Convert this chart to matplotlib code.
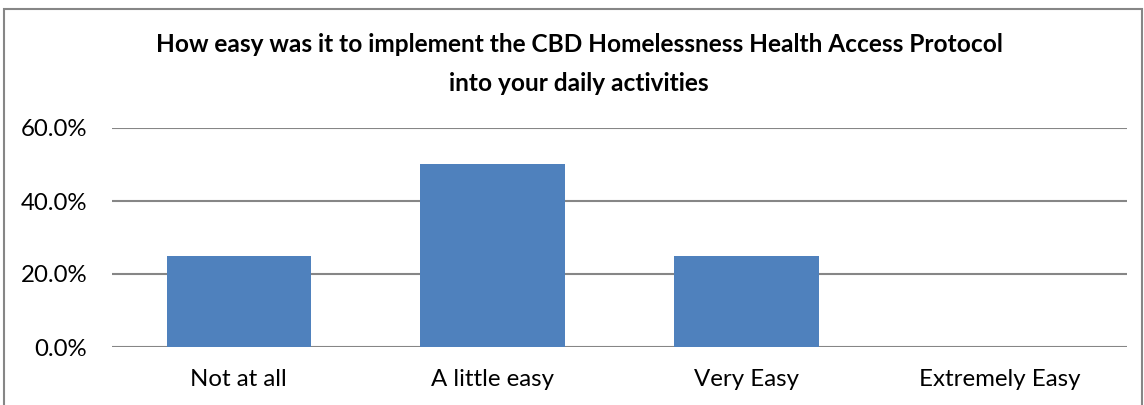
import matplotlib.pyplot as plt
from matplotlib.patches import Rectangle
from matplotlib.ticker import PercentFormatter

categories = ['Not at all', 'A little easy', 'Very Easy', 'Extremely Easy']
shares = [25.0, 50.0, 25.0, 0.0]
y_ticks = [0, 20, 40, 60]

plt.rcParams['font.family'] = ['Lato', 'DejaVu Sans']

fig = plt.figure(figsize=(11.44, 4.05), dpi=100)
ax = fig.add_axes([112 / 1144, 1 - 347 / 405, (1127 - 112) / 1144, (347 - 128) / 405])

ax.bar(range(len(categories)), shares, width=0.57, color='#4F81BD', zorder=3)
ax.set_xlim(-0.5, len(categories) - 0.5)
ax.set_ylim(0, 60)
ax.set_yticks(y_ticks)
ax.yaxis.set_major_formatter(PercentFormatter(decimals=1))
ax.set_xticks(range(len(categories)))
ax.set_xticklabels(categories)
ax.tick_params(length=0, labelsize=17.3, colors='black', pad=18)
ax.tick_params(axis='x', pad=16)
ax.grid(axis='y', color='#868686', linewidth=1.5, zorder=0)
for side in ['top', 'right', 'left', 'bottom']:
    ax.spines[side].set_visible(False)

fig.text(579 / 1144, 1 - 64 / 405,
         'How easy was it to implement the CBD Homelessness Health Access Protocol\ninto your daily activities',
         ha='center', va='center', fontsize=17.6, fontweight='bold', linespacing=1.8)

# chart frame
fig.add_artist(Rectangle((4 / 1144, -0.05), (1142 - 4) / 1144, 1.05 - 9 / 405,
                         transform=fig.transFigure, fill=False,
                         edgecolor='#868686', linewidth=1.5))

fig.savefig('out.png', dpi=100)
